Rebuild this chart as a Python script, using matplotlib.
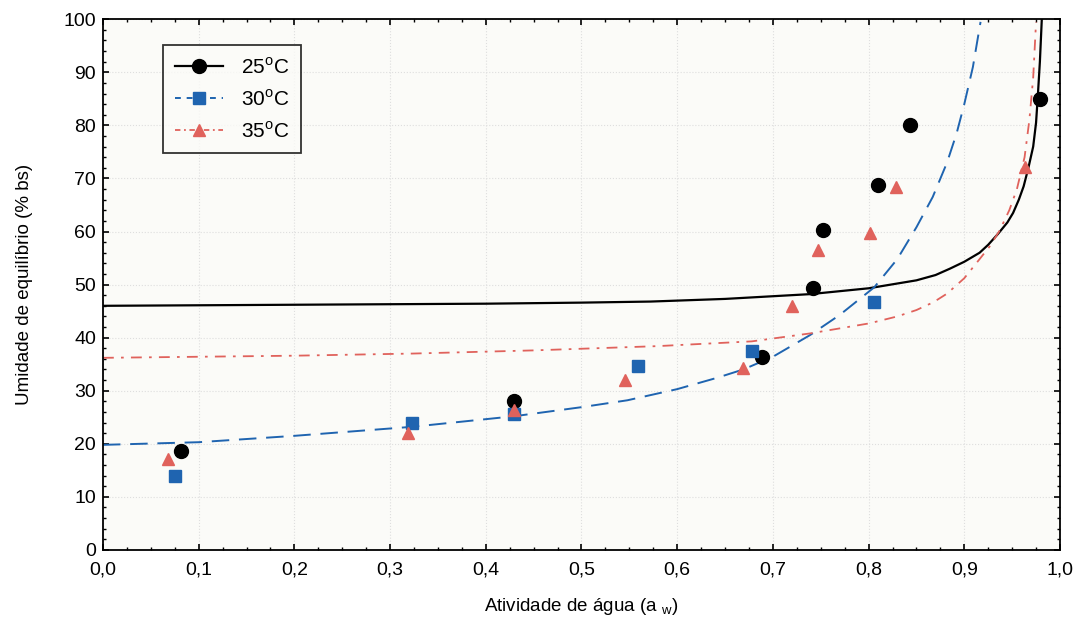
import matplotlib
matplotlib.use("Agg")
import matplotlib.pyplot as plt
from matplotlib.ticker import MultipleLocator, FuncFormatter

plt.rcParams['font.family'] = ['Liberation Sans', 'DejaVu Sans']
plt.rcParams['mathtext.fontset'] = 'custom'
plt.rcParams['mathtext.rm'] = 'Liberation Sans'

# experimental points
aw_25 = [0.082, 0.430, 0.689, 0.742, 0.752, 0.810, 0.843, 0.979]
m_25 = [18.7, 28.0, 36.3, 49.4, 60.2, 68.8, 80.0, 84.9]

aw_30 = [0.075, 0.323, 0.430, 0.559, 0.678, 0.806]
m_30 = [13.9, 23.9, 25.6, 34.6, 37.4, 46.8]

aw_35 = [0.068, 0.319, 0.430, 0.545, 0.669, 0.720, 0.747, 0.801, 0.829, 0.963]
m_35 = [17.2, 22.0, 26.4, 32.1, 34.2, 45.9, 56.6, 59.8, 68.4, 72.1]

# fitted curves
fit_aw_25 = [0.0, 0.1, 0.2, 0.3, 0.4, 0.5, 0.572, 0.65, 0.739, 0.8, 0.85, 0.87,
             0.885, 0.9, 0.916, 0.925, 0.935, 0.945, 0.951, 0.957, 0.962, 0.967,
             0.972, 0.975, 0.977, 0.979, 0.981]
fit_m_25 = [46.0, 46.1, 46.2, 46.3, 46.4, 46.6, 46.8, 47.3, 48.2, 49.3, 50.8, 51.8,
            53.0, 54.3, 56.0, 57.5, 59.5, 61.7, 63.5, 66.0, 68.5, 72.0,
            76.0, 80.5, 86.0, 92.0, 100.0]

fit_aw_30 = [0.0, 0.1, 0.2, 0.323, 0.43, 0.5, 0.548, 0.6, 0.641, 0.669, 0.7,
             0.739, 0.77, 0.806, 0.83, 0.85, 0.867, 0.882, 0.892, 0.9, 0.909, 0.917]
fit_m_30 = [19.8, 20.3, 21.5, 23.2, 25.2, 26.9, 28.2, 30.3, 32.4, 34.0, 36.4,
            40.5, 44.3, 49.5, 54.8, 60.8, 66.5, 73.0, 78.5, 84.0, 91.0, 99.5]

fit_aw_35 = [0.0, 0.2, 0.323, 0.45, 0.579, 0.678, 0.739, 0.801, 0.83, 0.85, 0.868,
             0.882, 0.9, 0.916, 0.927, 0.937, 0.947, 0.955, 0.963, 0.968, 0.972, 0.975]
fit_m_35 = [36.2, 36.6, 37.0, 37.6, 38.4, 39.3, 40.8, 42.7, 44.0, 45.2, 46.7,
            48.3, 51.2, 54.8, 57.3, 60.2, 64.0, 68.0, 74.0, 81.0, 89.0, 99.5]

labels = ['25$^{\\mathregular{o}}$C', '30$^{\\mathregular{o}}$C', '35$^{\\mathregular{o}}$C']

blue = '#1f64b0'
red = '#e0625c'

fig = plt.figure(figsize=(10.77, 6.2), dpi=100)
fig.patch.set_facecolor('white')
ax = fig.add_axes([0.0956, 0.113, 0.8886, 0.856])
ax.set_facecolor('#fbfbf8')

ax.plot(fit_aw_25, fit_m_25, color='black', lw=1.6, zorder=2)
ax.plot(fit_aw_30, fit_m_30, color=blue, lw=1.4, dashes=(9, 5), zorder=2)
ax.plot(fit_aw_35, fit_m_35, color=red, lw=1.3, dashes=(6, 4, 1.5, 4), zorder=2)

ax.plot(aw_25, m_25, 'o', color='black', ms=10, zorder=3)
ax.plot(aw_30, m_30, 's', color=blue, ms=8, zorder=3)
ax.plot(aw_35, m_35, '^', color=red, ms=9, zorder=3)

# legend handles: line + marker
h1, = ax.plot([], [], color='black', lw=1.6, marker='o', ms=10)
h2, = ax.plot([], [], color=blue, lw=1.4, dashes=(3, 3), marker='s', ms=8)
h3, = ax.plot([], [], color=red, lw=1.3, dashes=(3, 2, 1, 2), marker='^', ms=9)
leg = ax.legend([h1, h2, h3], labels, loc='upper left', bbox_to_anchor=(0.063, 0.951),
                borderaxespad=0, fontsize=15, frameon=True, fancybox=False,
                edgecolor='black', handlelength=2.3, borderpad=0.55,
                labelspacing=0.55, handletextpad=0.9)
leg.get_frame().set_linewidth(1.3)
leg.get_frame().set_facecolor('#fbfbf8')

ax.set_xlim(0, 1.0)
ax.set_ylim(0, 100)
ax.xaxis.set_major_locator(MultipleLocator(0.1))
ax.xaxis.set_minor_locator(MultipleLocator(0.025))
ax.yaxis.set_major_locator(MultipleLocator(10))
ax.yaxis.set_minor_locator(MultipleLocator(2))
ax.xaxis.set_major_formatter(FuncFormatter(lambda v, p: ('%.1f' % v).replace('.', ',')))

ax.tick_params(which='both', direction='in', top=True, right=True, labelsize=14)
ax.tick_params(which='major', length=4, width=1.2)
ax.tick_params(which='minor', length=2.5, width=1.0)
ax.tick_params(axis='x', pad=8)
ax.tick_params(axis='y', pad=5)

ax.grid(True, which='major', color='#dedede', linestyle=':', linewidth=0.8)
ax.set_axisbelow(True)
for s in ax.spines.values():
    s.set_linewidth(1.3)

ax.set_xlabel('Atividade de água (a $_{\\mathregular{w}}$)', fontsize=13.5, labelpad=13)
ax.set_ylabel('Umidade de equilíbrio (% bs)', fontsize=13.5, labelpad=22)

plt.savefig('out.png', dpi=100)
